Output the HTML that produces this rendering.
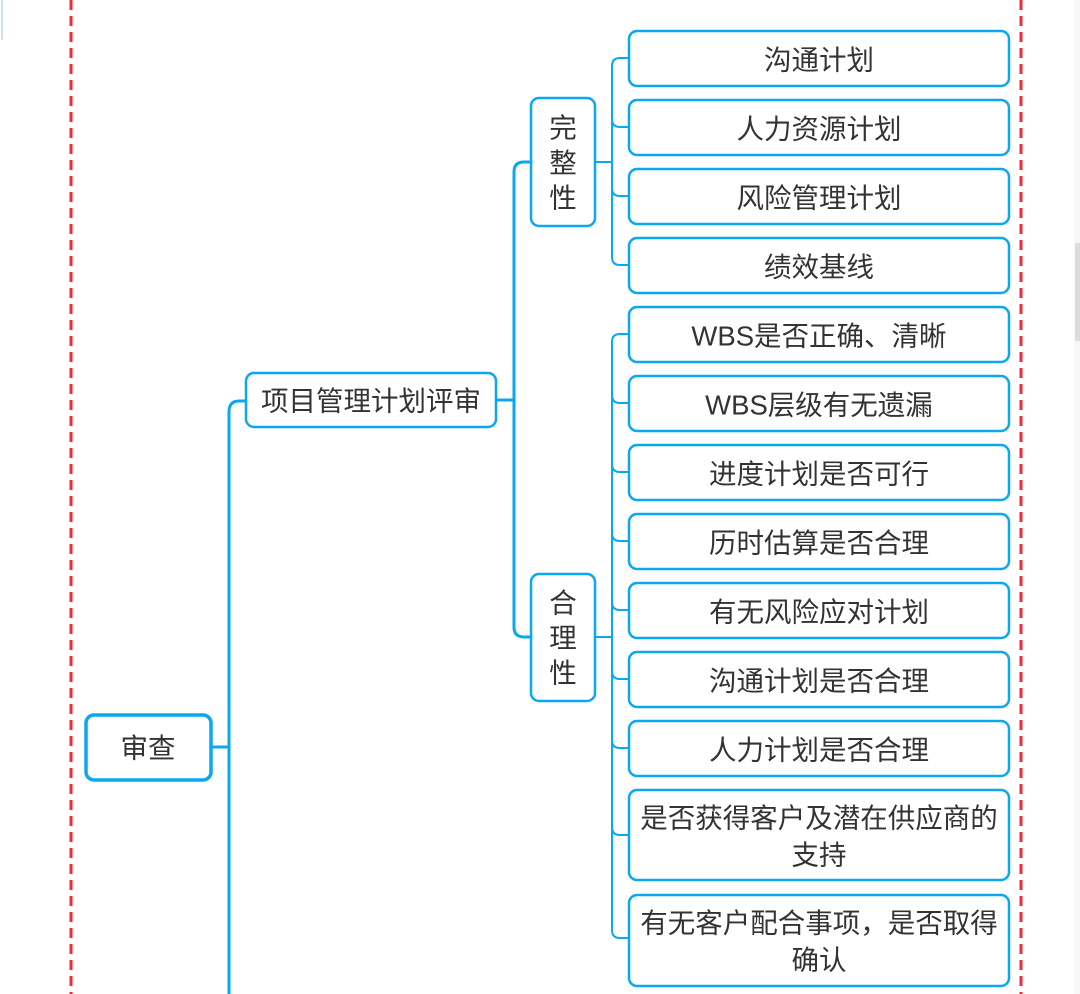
<!DOCTYPE html>
<html><head><meta charset="utf-8">
<style>
html,body{margin:0;padding:0;background:#fff;}
svg{display:block;}
text{font-family:"Liberation Sans","Noto Sans CJK SC",sans-serif;fill:#333;font-size:27.5px;text-anchor:middle;dominant-baseline:central;}
</style></head>
<body>
<svg width="1080" height="994" viewBox="0 0 1080 994" xmlns="http://www.w3.org/2000/svg">
<rect x="1074" y="0" width="6" height="994" fill="#f7f7f7"/>
<rect x="1075" y="243" width="5" height="98" fill="#dcdcdc"/>
<line x1="2" y1="0" x2="2" y2="40" stroke="#cfe0f5" stroke-width="2"/>
<line x1="71" y1="0" x2="71" y2="994" stroke="#f5293a" stroke-width="3" stroke-dasharray="10,6"/>
<line x1="1021" y1="0" x2="1021" y2="994" stroke="#f5293a" stroke-width="3" stroke-dasharray="10,6"/>

<g fill="none" stroke="#0aa8ee" stroke-linecap="round">
 <path d="M212 747 H229" stroke-width="3"/>
 <path d="M229 994 V412 Q229 401 239 401 H245" stroke-width="3"/>
 <path d="M497 400 H514" stroke-width="3"/>
 <path d="M531 162 H524 Q514 162 514 172 V627 Q514 637 524 637 H531" stroke-width="3"/>
 <path d="M596 162 H612" stroke-width="2"/>
 <path d="M629 58 H620 Q612 58 612 66 V257 Q612 265 620 265 H629" stroke-width="2"/>
 <path d="M612 119 Q612 127 620 127 H629 M612 188 Q612 196 620 196 H629" stroke-width="2"/>
 <path d="M596 637 H612" stroke-width="2"/>
 <path d="M629 334 H620 Q612 334 612 342 V930 Q612 938 620 938 H629" stroke-width="2"/>
 <path d="M612 395 Q612 403 620 403 H629 M612 464 Q612 472 620 472 H629 M612 533 Q612 541 620 541 H629 M612 602 Q612 610 620 610 H629 M612 671 Q612 679 620 679 H629 M612 740 Q612 748 620 748 H629 M612 827 Q612 835 620 835 H629" stroke-width="2"/>

 <rect x="86" y="715" width="125" height="65" rx="8" stroke-width="3.5"/>
 <rect x="246" y="373" width="250" height="54" rx="8" stroke-width="2.5"/>
 <rect x="531" y="98" width="64" height="128" rx="8" stroke-width="2.5"/>
 <rect x="531" y="574" width="64" height="127" rx="8" stroke-width="2.5"/>
 <rect x="629" y="31" width="380" height="55" rx="8" stroke-width="2.5"/>
 <rect x="629" y="100" width="380" height="55" rx="8" stroke-width="2.5"/>
 <rect x="629" y="169" width="380" height="55" rx="8" stroke-width="2.5"/>
 <rect x="629" y="238" width="380" height="55" rx="8" stroke-width="2.5"/>
 <rect x="629" y="307" width="380" height="55" rx="8" stroke-width="2.5"/>
 <rect x="629" y="376" width="380" height="55" rx="8" stroke-width="2.5"/>
 <rect x="629" y="445" width="380" height="55" rx="8" stroke-width="2.5"/>
 <rect x="629" y="514" width="380" height="55" rx="8" stroke-width="2.5"/>
 <rect x="629" y="583" width="380" height="55" rx="8" stroke-width="2.5"/>
 <rect x="629" y="652" width="380" height="55" rx="8" stroke-width="2.5"/>
 <rect x="629" y="721" width="380" height="55" rx="8" stroke-width="2.5"/>
 <rect x="629" y="790" width="380" height="90" rx="8" stroke-width="2.5"/>
 <rect x="629" y="895" width="380" height="91" rx="8" stroke-width="2.5"/>
</g>

<text x="148" y="748">审查</text>
<text x="371" y="401">项目管理计划评审</text>
<text x="563" y="128">完</text><text x="563" y="163">整</text><text x="563" y="198">性</text>
<text x="563" y="603">合</text><text x="563" y="638">理</text><text x="563" y="673">性</text>
<text x="819" y="60">沟通计划</text>
<text x="819" y="129">人力资源计划</text>
<text x="819" y="198">风险管理计划</text>
<text x="819" y="267">绩效基线</text>
<text x="819" y="336">WBS是否正确、清晰</text>
<text x="819" y="405">WBS层级有无遗漏</text>
<text x="819" y="474">进度计划是否可行</text>
<text x="819" y="543">历时估算是否合理</text>
<text x="819" y="612">有无风险应对计划</text>
<text x="819" y="681">沟通计划是否合理</text>
<text x="819" y="750">人力计划是否合理</text>
<text x="819" y="818">是否获得客户及潜在供应商的</text>
<text x="819" y="855">支持</text>
<text x="819" y="923">有无客户配合事项，是否取得</text>
<text x="819" y="960">确认</text>
</svg>
</body></html>
